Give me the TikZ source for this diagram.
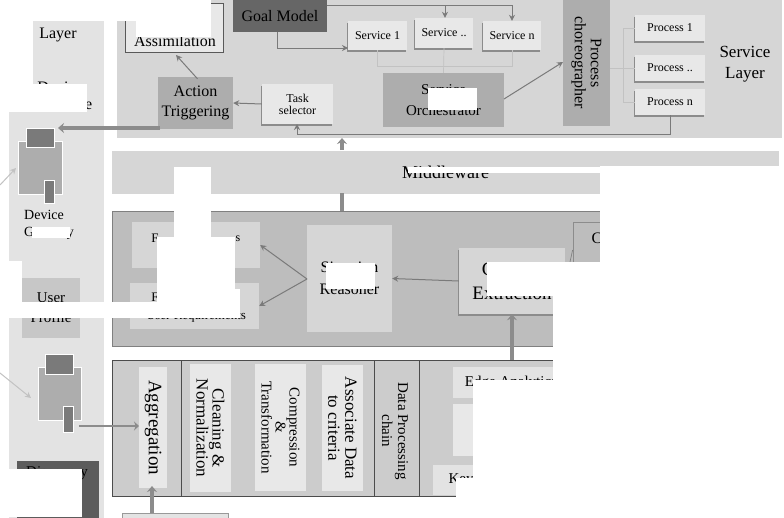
\documentclass[tikz,border=0pt]{standalone}
\usepackage{fontspec}
\setmainfont{Liberation Serif}
\usetikzlibrary{arrows.meta, calc, positioning, shadows}
\definecolor{panelgray}{gray}{0.84}
\definecolor{sidegray}{gray}{0.89}
\definecolor{darkpanel}{gray}{0.74}
\definecolor{datagray}{gray}{0.80}
\definecolor{midgray}{gray}{0.68}
\definecolor{lightbox}{gray}{0.91}
\definecolor{goalgray}{gray}{0.40}
\definecolor{capgray}{gray}{0.48}
\definecolor{linegray}{gray}{0.48}
\definecolor{thingray}{gray}{0.76}
\newcommand{\fs}[1]{\fontsize{#1}{#1 pt}\selectfont}

\begin{document}
\begin{tikzpicture}[
    x=1pt, y=-1pt,
    panel/.style={rectangle, inner sep=0pt, align=center, fill=panelgray},
    block/.style={panel, fill=lightbox, drop shadow={shadow xshift=-1pt, shadow yshift=-2pt, fill=black!45, opacity=1}},
    rotbox/.style={panel, fill=lightbox, rotate=-90},
    plainlabel/.style={inner sep=0pt, align=center},
    iconpart/.style={rectangle, inner sep=0pt, draw=white, line width=0.8pt},
    arrow/.style={-{Stealth[length=6pt, width=6pt]}, line width=1pt, draw=linegray},
    fatarrow/.style={-{Stealth[length=6pt, width=10pt]}, line width=4pt, draw=black!45},
    thinline/.style={line width=0.7pt, draw=thingray}
]
\useasboundingbox (0,0) rectangle (784,517);
\fill[white] (0,0) rectangle (784,517);

% Panels
\node[panel, minimum width=665pt, minimum height=138pt] (servicelayer) at (449.5,69) {};
\node[panel, fill=sidegray, minimum width=95pt, minimum height=498pt] (devicelayer) at (56.5,270) {};
\node[panel, minimum width=667pt, minimum height=43pt, font=\fs{18}] (middleware) at (445.5,172) {Middleware};
\node[panel, fill=darkpanel, draw=black!50, line width=0.8pt, minimum width=576pt, minimum height=135pt] (situationpanel) at (400,278.5) {};
\node[panel, fill=datagray, draw=black!70, line width=0.8pt, minimum width=488pt, minimum height=136pt] (datapanel) at (356,428) {};

% Service layer
\node[panel, fill=lightbox, draw=black!65, line width=0.8pt, minimum width=98pt, minimum height=49pt] (assimilation) at (174,27.5) {};
\node[plainlabel, font=\fs{16}] (assimtext) at (175,41) {Assimilation};
\node[panel, fill=goalgray, minimum width=94pt, minimum height=32pt, font=\fs{16}] (goal) at (280,16) {Goal Model};
\node[block, minimum width=59pt, minimum height=29pt, font=\fs{12}] (serviceone) at (377.5,35.5) {Service 1};
\node[block, minimum width=58pt, minimum height=30pt, font=\fs{12}] (servicedots) at (444,33) {Service ..};
\node[block, minimum width=58pt, minimum height=29pt, font=\fs{12}] (servicen) at (512,35.5) {Service n};
\node[panel, fill=midgray, minimum width=121pt, minimum height=54pt, font=\fs{15}] (orchestrator) at (443.5,100) {Service\\[6pt]Orchestrator};
\node[panel, fill=midgray, minimum width=126pt, minimum height=47pt, rotate=-90, font=\fs{16}] (choreographer) at (586.5,63) {Process\\choreographer};
\foreach \name/\ypos/\txt in {procone/28/Process 1, procdots/68/Process .., procn/102/Process n}
    \node[block, minimum width=70pt, minimum height=26pt, font=\fs{12}] (\name) at (670,\ypos) {\txt};
\node[plainlabel, font=\fs{17}] (servicelabel) at (745,64) {Service\\[4pt]Layer};
\node[block, minimum width=71pt, minimum height=40pt, font=\fs{12}] (task) at (297.5,104) {Task\\selector};
\node[panel, fill=midgray, minimum width=75pt, minimum height=52pt, font=\fs{16}] (action) at (195.5,103) {Action\\[4pt]Triggering};

% Device layer
\node[plainlabel, font=\fs{16}] (layerlabel) at (58,35) {Layer};
\node[plainlabel, font=\fs{16}] (devicetop) at (60,87) {Device};
\node[plainlabel, font=\fs{16}] (devicetail) at (85,106) {ce};
\node[iconpart, fill=midgray, minimum width=44pt, minimum height=53pt] (bodyone) at (40,167.5) {};
\node[iconpart, fill=capgray, minimum width=28pt, minimum height=19pt] (capone) at (40,137.5) {};
\node[iconpart, fill=capgray, minimum width=10pt, minimum height=23pt] (plugone) at (49,191.5) {};
\node[plainlabel, align=left, anchor=west, font=\fs{14}] (gateway) at (24,225) {Device\\[3pt]Gateway};
\node[panel, fill=darkpanel!85!white, minimum width=58pt, minimum height=60pt, font=\fs{15}] (profile) at (51,308) {User\\[5pt]Profile};
\node[iconpart, fill=midgray, minimum width=43pt, minimum height=53pt] (bodytwo) at (59.5,393.5) {};
\node[iconpart, fill=capgray, minimum width=28pt, minimum height=20pt] (captwo) at (59,364) {};
\node[iconpart, fill=capgray, minimum width=10pt, minimum height=26pt] (plugtwo) at (68,419) {};
\node[panel, fill=goalgray!90!black, minimum width=82pt, minimum height=60pt, anchor=north] (discovery) at (58,461) {};
\node[plainlabel, font=\fs{15}] (discoverytext) at (57,473) {Discovery};

% Situation panel
\node[panel, fill=panelgray, minimum width=128pt, minimum height=46pt] (ruleone) at (196,245) {};
\node[panel, fill=panelgray, minimum width=129pt, minimum height=46pt] (ruletwo) at (194.5,306) {};
\node[plainlabel, font=\fs{13}] (ruleonef) at (155,238) {F};
\node[plainlabel, font=\fs{12}] (ruleones) at (238,239) {s};
\node[plainlabel, font=\fs{13}] (ruletwof) at (155,297) {F};
\node[plainlabel, font=\fs{13}] (ruletwotext) at (196,317) {User Requirements};
\node[panel, minimum width=85pt, minimum height=107pt, font=\fs{16}] (situation) at (349.5,278.5) {Situation\\[6pt]Reasoner};
\node[block, fill=panelgray, minimum width=106pt, minimum height=66pt, font=\fs{19}] (context) at (512,281) {Context\\[5pt]Extraction};
\node[panel, fill=darkpanel, draw=black!45, line width=0.8pt, minimum width=66pt, minimum height=56pt] (cbox) at (606,250) {};
\node[plainlabel, font=\fs{16}] (ctext) at (597,238) {C};

% Data chain
\node[rotbox, minimum width=121pt, minimum height=28pt, font=\fs{19}] (aggregation) at (153,427.5) {Aggregation};
\node[rotbox, minimum width=128pt, minimum height=41pt, font=\fs{17}] (cleaning) at (210.5,428) {Cleaning \&\\[-1pt]Normalization};
\node[rotbox, minimum width=127pt, minimum height=51pt, font=\fs{15}] (compression) at (280.5,427.5) {Compression\\[-1pt]\&\\[-1pt]Transformation};
\node[rotbox, minimum width=126pt, minimum height=41pt, font=\fs{17}] (associate) at (342.5,428) {Associate Data\\to criteria};
\node[plainlabel, rotate=-90, font=\fs{15}] (chainlabel) at (395,431) {Data Processing\\[1pt]chain};
\node[panel, fill=sidegray, minimum width=116pt, minimum height=31pt, font=\fs{15}] (edge) at (511,382.5) {Edge Analytics};
\node[panel, fill=lightbox, minimum width=46pt, minimum height=52pt] (edgemid) at (476,430) {};
\node[panel, fill=sidegray, minimum width=56pt, minimum height=30pt, font=\fs{15}] (key) at (461,480) {Key};
\node[panel, fill=sidegray, draw=black!40, minimum width=106pt, minimum height=24pt] (source) at (175,525) {};
\draw[line width=0.8pt, black!70] (181,360) -- (181,496);
\draw[line width=0.8pt, black!70] (374,360) -- (374,496);
\draw[line width=0.8pt, black!70] (419,360) -- (419,496);

% Free ends
\coordinate (goaltop) at (327,5);
\coordinate (goaldown) at (277,32);
\coordinate (serviceonein) at (348,48);
\coordinate (orchout) at (504,99);
\coordinate (choreoin) at (563,62);
\coordinate (procnout) at (670,115);
\coordinate (taskin) at (297,124);
\coordinate (actionout) at (160,128);
\coordinate (capin) at (58,128);
\coordinate (gatewayfrom) at (0,185);
\coordinate (gatewayto) at (16,168);
\coordinate (bodyfrom) at (0,373);
\coordinate (bodyto) at (31,398);
\coordinate (plugout) at (79,426);
\coordinate (aggin) at (139,426);
\coordinate (situationapex) at (307,279);
\coordinate (sourceout) at (152,513);
\coordinate (aggrin) at (152,486);
\coordinate (mwtop) at (342,150);
\coordinate (sltop) at (342,138);
\coordinate (mwbottom) at (342,193);
\coordinate (sptop) at (342,211);

% Arrows
\draw[line width=1pt, linegray] (goaltop) -- (512,5);
\draw[arrow] (445,5) -- (servicedots.north -| 445,0);
\draw[arrow] (512,5) -- (servicen.north);
\draw[arrow] (goaldown) |- (serviceonein);
\draw[thinline] (serviceone.south) |- (servicen.south |- 0,66) -- (servicen.south);
\draw[thinline] (servicedots.south) -- (orchestrator.north);
\draw[arrow] (orchout) -- (choreoin);
\draw[thinline] (choreographer.north |- procdots.west) -- (procdots.west);
\draw[thinline] (procone.west) -- ++(-11,0) |- (procn.west);
\draw[arrow] (procnout) |- (297,134) -- (taskin);
\draw[arrow] (task.west) -- (action.east);
\draw[arrow] ($(action.north)+(2,2)$) -- (176,55);
\draw[fatarrow] (actionout) -- (capin);
\draw[arrow, draw=thingray] (gatewayfrom) -- (gatewayto);
\draw[arrow, draw=thingray] (bodyfrom) -- (bodyto);
\draw[fatarrow, line width=2.5pt, {-{Stealth[length=5pt, width=9pt]}}] (plugout) -- (aggin);
\draw[fatarrow] (sourceout) -- (aggrin);
\draw[fatarrow] (mwtop) -- (sltop);
\draw[line width=4pt, black!45] (mwbottom) -- (sptop);
\draw[arrow] (context.west) -- (situation.east);
\draw[arrow] (situationapex) -- (ruleone.east);
\draw[arrow] (situationapex) -- (ruletwo.east);
\draw[fatarrow] (datapanel.north -| context.south) -- (context.south);
\draw[line width=0.7pt, black!50] (570,262) -- (cbox.west);

% White patches
\foreach \xa/\ya/\xb/\yb in {0/0/136/21, 136/0/211/37, 0/21/33/84, 0/84/87/112, 0/261/22/302,
    0/302/240/318, 157/237/235/302, 235/289/240/302, 174/167/211/237, 428/88/477/110, 408/167/600/173,
    32/227/70/238, 600/166/784/262, 487/262/784/296, 553/296/784/380, 473/380/784/478, 456/478/784/517,
    0/469/82/517, 326/263/375/289}
    \fill[white] (\xa,\ya) rectangle (\xb,\yb);
\end{tikzpicture}
\end{document}
